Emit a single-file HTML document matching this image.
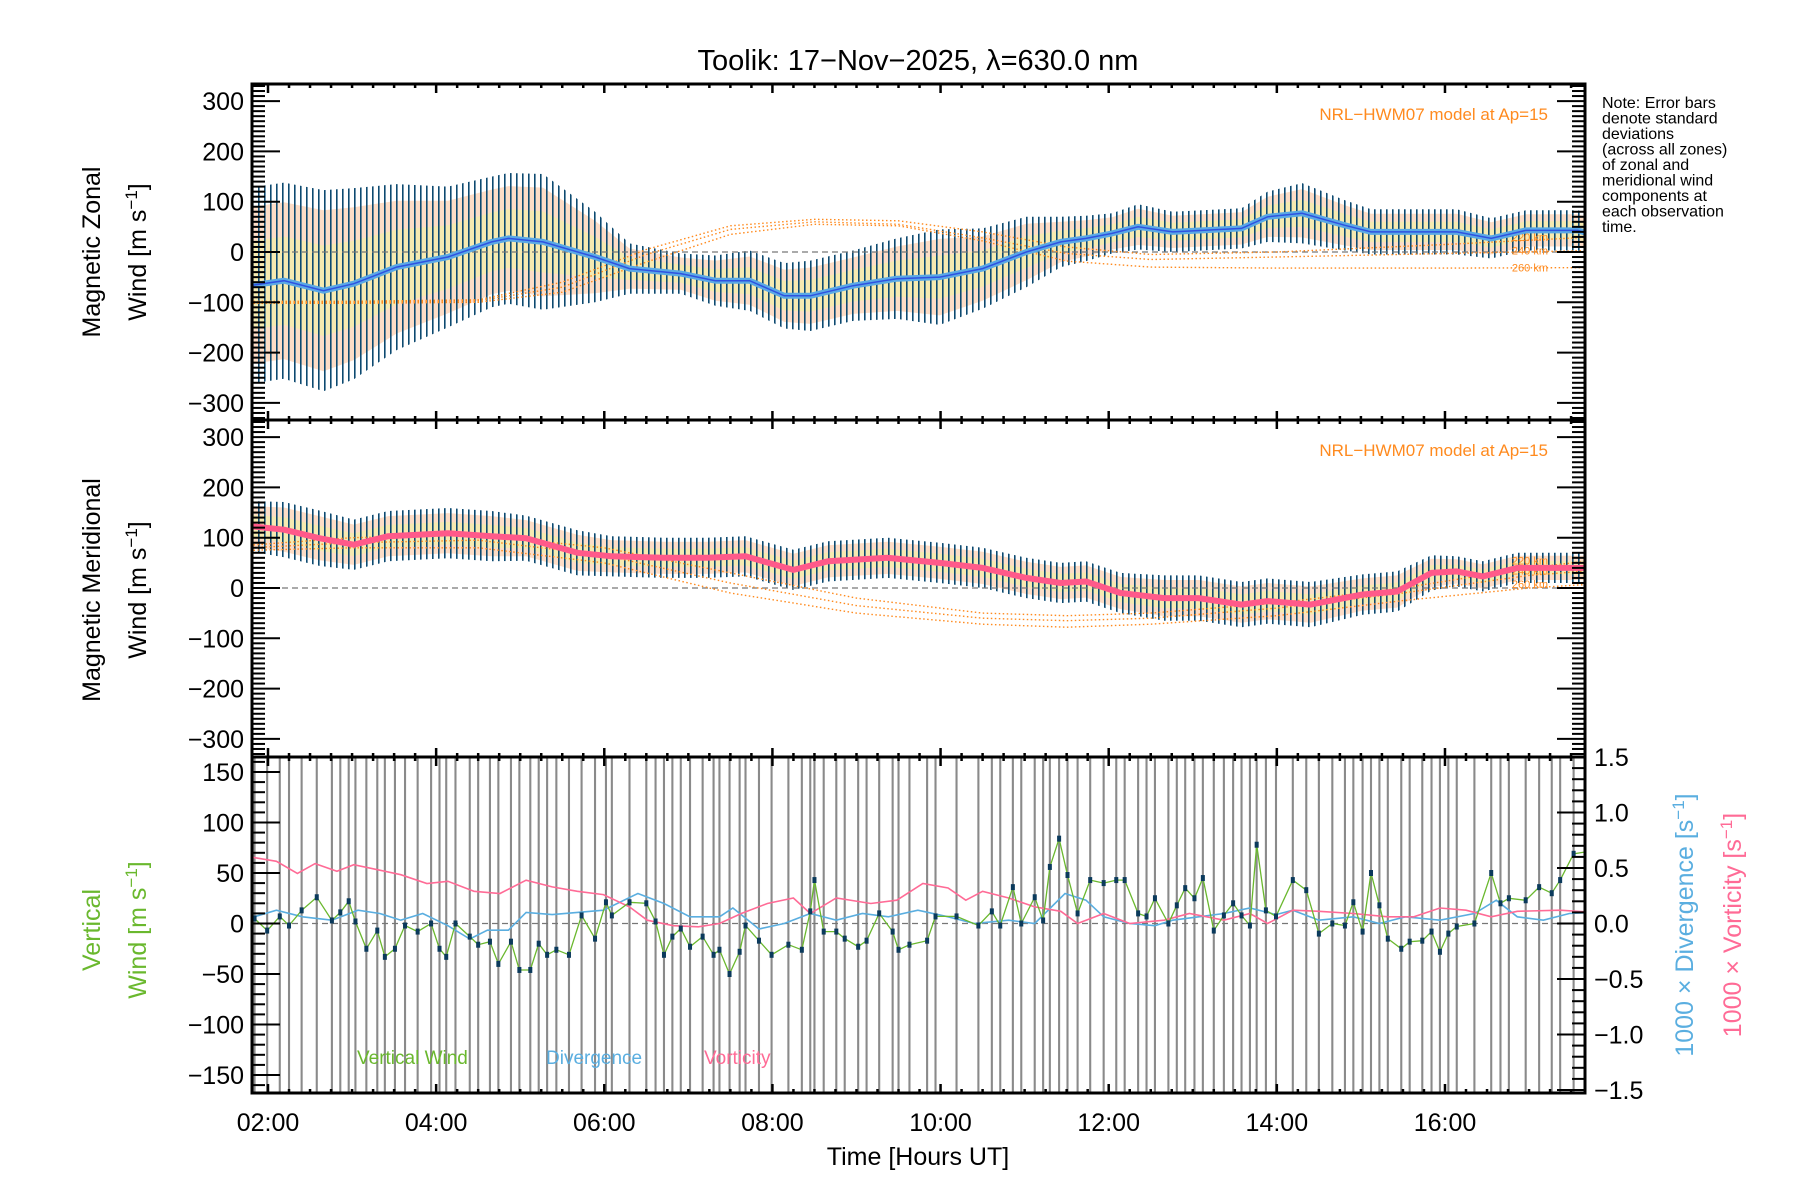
<!DOCTYPE html>
<html><head><meta charset="utf-8"><title>Toolik winds</title>
<style>
html,body{margin:0;padding:0;background:#fff;}
svg{display:block;font-family:"Liberation Sans",sans-serif;}
</style></head>
<body>
<svg id="chart" width="1800" height="1200" viewBox="0 0 1800 1200" xmlns="http://www.w3.org/2000/svg">
<defs>
<clipPath id="c1"><rect x="252" y="84" width="1333" height="336"/></clipPath>
<clipPath id="c2"><rect x="252" y="420" width="1333" height="337"/></clipPath>
<clipPath id="c3"><rect x="252" y="757" width="1333" height="336"/></clipPath>
<pattern id="bars" patternUnits="userSpaceOnUse" width="6" height="10"><rect x="0" y="0" width="1.6" height="10" fill="#0d4a70"/></pattern>
</defs>
<text x="918" y="70" font-size="29" text-anchor="middle">Toolik: 17−Nov−2025, λ=630.0 nm</text>
<g id="g1" clip-path="url(#c1)"></g>
<g id="g2" clip-path="url(#c2)"></g>
<g id="g3" clip-path="url(#c3)"></g>
<g id="axes"></g>
<g font-size="16">
<text x="1602" y="108">Note: Error bars</text>
<text x="1602" y="123.5">denote standard</text>
<text x="1602" y="139">deviations</text>
<text x="1602" y="154.5">(across all zones)</text>
<text x="1602" y="170">of zonal and</text>
<text x="1602" y="185.5">meridional wind</text>
<text x="1602" y="201">components at</text>
<text x="1602" y="216.5">each observation</text>
<text x="1602" y="232">time.</text>
</g>
<text x="1548" y="120" font-size="17" fill="#ff8a1e" text-anchor="end">NRL−HWM07 model at Ap=15</text>
<text x="1548" y="456" font-size="17" fill="#ff8a1e" text-anchor="end">NRL−HWM07 model at Ap=15</text>
<g font-size="19">
<text x="357" y="1064" fill="#6ab82e">Vertical Wind</text>
<text x="546" y="1064" fill="#5aaee0">Divergence</text>
<text x="704" y="1064" fill="#ff6b96">Vorticity</text>
</g>
<g font-size="25" text-anchor="middle">
<text transform="translate(100,252) rotate(-90)">Magnetic Zonal</text>
<text transform="translate(146,252) rotate(-90)">Wind [m s<tspan dy="-9" font-size="17">−1</tspan><tspan dy="9">]</tspan></text>
<text transform="translate(100,590) rotate(-90)">Magnetic Meridional</text>
<text transform="translate(146,590) rotate(-90)">Wind [m s<tspan dy="-9" font-size="17">−1</tspan><tspan dy="9">]</tspan></text>
<text transform="translate(100,930) rotate(-90)" fill="#6ab82e">Vertical</text>
<text transform="translate(146,930) rotate(-90)" fill="#6ab82e">Wind [m s<tspan dy="-9" font-size="17">−1</tspan><tspan dy="9">]</tspan></text>
<text transform="translate(1693,925) rotate(-90)" fill="#5aaee0">1000 × Divergence [s<tspan dy="-9" font-size="17">−1</tspan><tspan dy="9">]</tspan></text>
<text transform="translate(1741,925) rotate(-90)" fill="#ff6b96">1000 × Vorticity [s<tspan dy="-9" font-size="17">−1</tspan><tspan dy="9">]</tspan></text>
</g>
<text x="918" y="1165" font-size="25" text-anchor="middle">Time [Hours UT]</text>
</svg>
<script>
// ---- data ----
const zonalT = [1.78,2.19,2.66,3.02,3.53,4.14,4.66,4.86,5.27,5.89,6.30,6.91,7.32,7.73,8.14,8.45,8.96,9.48,9.99,10.50,11.02,11.43,11.73,12.04,12.35,12.76,13.58,13.89,14.30,14.81,15.12,16.14,16.55,16.96,17.58,17.78];
const zonalV = [-67,-57,-77,-63,-30,-10,20,27,20,-10,-33,-43,-57,-57,-87,-87,-67,-53,-50,-33,0,20,27,37,50,40,47,70,77,53,40,40,27,43,43,33];
const zonalSd = [195,195,200,190,165,140,130,130,135,90,50,40,50,60,65,70,70,80,95,80,70,50,45,40,45,40,40,50,60,50,45,45,40,40,40,40];
const modelT1 = [1.78,3.0,4.5,5.5,6.5,7.5,8.5,9.5,10.5,11.5,12.5,14,16,17.78];
const zonal220 = [-98,-98,-95,-60,5,52,65,62,40,10,-5,0,15,30];
const zonal240 = [-100,-100,-97,-70,-5,45,60,55,28,-3,-15,-10,-3,3];
const zonal260 = [-102,-102,-100,-80,-20,35,55,52,22,-18,-30,-32,-32,-31];

const merT = [1.78,2.19,2.61,3.02,3.43,4.14,4.66,5.07,5.68,6.09,6.71,7.22,7.68,8.25,8.66,9.37,9.99,10.50,11.02,11.43,11.73,12.14,12.66,13.07,13.58,13.89,14.40,15.02,15.43,15.84,16.14,16.45,16.86,17.37,17.78];
const merV = [123,116,99,86,103,109,103,99,70,63,60,60,63,36,53,60,50,40,20,10,13,-10,-20,-20,-33,-26,-33,-13,-7,30,33,23,40,40,40];
const merSd = [50,55,55,50,50,50,50,45,45,40,40,40,40,40,40,40,40,40,40,40,40,40,45,45,45,45,45,40,40,35,30,30,30,30,30];
const modelT2 = [1.78,3,4.5,6,7.5,9,10.5,11.5,12.5,14,15.5,17,17.78];
const mer220 = [85,100,105,80,30,-20,-50,-55,-50,-30,0,40,55];
const mer240 = [80,90,95,65,10,-35,-60,-65,-60,-40,-10,25,35];
const mer260 = [75,80,80,50,-10,-50,-72,-78,-72,-55,-25,0,8];

const vertT = [1.84,1.99,2.14,2.25,2.40,2.58,2.76,2.86,2.96,3.04,3.17,3.30,3.39,3.51,3.63,3.78,3.94,4.04,4.12,4.23,4.40,4.50,4.64,4.74,4.89,4.99,5.12,5.22,5.32,5.43,5.58,5.73,5.89,6.02,6.09,6.30,6.50,6.61,6.71,6.81,6.91,7.02,7.17,7.30,7.37,7.49,7.61,7.68,7.84,7.99,8.19,8.35,8.45,8.50,8.61,8.76,8.86,9.02,9.12,9.27,9.43,9.50,9.63,9.84,9.94,10.19,10.45,10.61,10.71,10.86,10.96,11.12,11.22,11.30,11.41,11.51,11.63,11.78,11.94,12.09,12.19,12.35,12.45,12.55,12.71,12.81,12.91,13.02,13.12,13.25,13.37,13.48,13.58,13.68,13.76,13.87,13.99,14.19,14.35,14.50,14.66,14.81,14.91,15.02,15.12,15.22,15.32,15.48,15.58,15.73,15.84,15.94,16.04,16.14,16.35,16.55,16.66,16.76,16.96,17.12,17.27,17.37,17.53,17.68,17.78];
const vertV = [5,-7,7,-2,13,26,3,11,22,2,-25,-7,-33,-25,-2,-8,0,-25,-33,0,-13,-21,-18,-40,-18,-46,-46,-20,-31,-26,-31,8,-15,21,8,21,20,2,-31,-13,-5,-23,-13,-31,-26,-50,-28,-2,-17,-31,-21,-26,12,43,-8,-8,-15,-23,-17,10,-8,-26,-21,-17,7,7,-2,12,-2,36,0,26,3,56,84,48,10,43,40,43,43,10,7,25,0,18,35,25,45,-7,8,20,8,-2,78,13,7,43,33,-10,0,-2,21,-8,50,18,-15,-25,-18,-17,-8,-28,-10,-3,0,50,20,25,23,36,30,43,69,71,109];
const vertErr = 260;

const divT = [1.79,2.10,2.41,2.76,3.07,3.33,3.58,3.84,4.14,4.40,4.61,4.86,5.07,5.38,5.68,5.99,6.40,6.71,7.02,7.37,7.53,7.84,8.14,8.45,8.76,9.07,9.38,9.73,10.09,10.40,10.81,11.12,11.48,11.73,11.94,12.25,12.55,12.76,13.07,13.37,13.68,13.99,14.19,14.50,14.91,15.22,15.53,15.94,16.35,16.61,16.86,17.17,17.48,17.78];
const divV = [0.05,0.12,0.06,0.03,0.12,0.09,0.03,0.09,-0.02,-0.14,-0.06,-0.06,0.10,0.08,0.10,0.12,0.27,0.18,0.06,0.06,0.14,-0.05,0,0.09,0.03,0.09,0.06,0.12,0.06,0,0.03,0,0.27,0.21,0.06,0,-0.02,0.03,0.06,0.09,0.14,0.08,0.12,0.03,0.06,0,0.06,0.03,0.09,0.21,0.06,0.03,0.09,0.10];
const vorT = [1.79,2.10,2.35,2.56,2.82,3.02,3.33,3.58,3.89,4.14,4.45,4.76,5.07,5.38,5.68,5.99,6.30,6.51,6.82,7.12,7.37,7.63,7.94,8.25,8.45,8.76,9.17,9.48,9.79,10.09,10.30,10.50,10.81,11.12,11.43,11.63,11.94,12.25,12.66,12.96,13.37,13.68,13.89,14.19,14.50,14.91,15.32,15.63,15.94,16.25,16.55,16.86,17.37,17.78];
const vorV = [0.60,0.56,0.45,0.54,0.47,0.53,0.48,0.44,0.36,0.38,0.29,0.27,0.39,0.33,0.29,0.26,0.15,0.03,-0.02,-0.03,0,0.09,0.18,0.23,0.09,0.23,0.18,0.21,0.36,0.32,0.21,0.29,0.23,0.15,0.11,0,0.09,0,0.03,0.09,0.03,0.09,0,0.12,0.11,0.09,0.06,0.06,0.14,0.12,0.06,0.11,0.12,0.10];

const xLabels = ["02:00","04:00","06:00","08:00","10:00","12:00","14:00","16:00"];
const xMajor = [2,4,6,8,10,12,14,16];
const leftTicks12 = [300,200,100,0,-100,-200,-300];
const leftTicks3 = [150,100,50,0,-50,-100,-150];
const rightTicks3 = [1.5,1.0,0.5,0.0,-0.5,-1.0,-1.5];

// ---- scales ----
const L=252,R=1585;
function xS(h){return 268+(h-2)*84.07;}
function y1(v){return 252-v*0.503;}
function y2(v){return 588-v*0.503;}
function y3(v){return 923.5-v*1.01;}
function y3r(v){return 923.5-v*111;}
const NS="http://www.w3.org/2000/svg";
function mk(tag,attrs,parent){const e=document.createElementNS(NS,tag);for(const k in attrs)e.setAttribute(k,attrs[k]);parent.appendChild(e);return e;}
function pathOf(T,V,ys){return T.map((t,i)=>(i?"L":"M")+xS(t).toFixed(1)+","+ys(V[i]).toFixed(1)).join("");}
function bandOf(T,V,S,ys,f){let a=T.map((t,i)=>xS(t).toFixed(1)+","+ys(V[i]+S[i]*f).toFixed(1));let b=T.map((t,i)=>xS(t).toFixed(1)+","+ys(V[i]-S[i]*f).toFixed(1)).reverse();return a.concat(b).join(" ");}

const g1=document.getElementById('g1'),g2=document.getElementById('g2'),g3=document.getElementById('g3'),ax=document.getElementById('axes');

function windPanel(g,T,V,S,ys,c220,c240,c260,mt,lineCol,nm){
  let e;
  e=mk('polygon',{points:bandOf(T,V,S,ys,0.8),fill:'#fcd2b4','fill-opacity':'0.75'},g);
  
  
  e=mk('polygon',{points:bandOf(T,V,S,ys,0.45),fill:'#f2f0a8','fill-opacity':'0.7'},g);
  
  
  e=mk('polygon',{points:bandOf(T,V,S,ys,1),fill:'url(#bars)'},g);
  
  
  e=mk('line',{x1:L,x2:R,y1:ys(0),y2:ys(0),stroke:'#777','stroke-width':1.3,'stroke-dasharray':'6,4'},g);
  
  
  [[c220,'220'],[c240,'240'],[c260,'260']].forEach(([c,k])=>{
    const p=mk('path',{d:pathOf(mt,c,ys),fill:'none',stroke:'#ff8a1e','stroke-width':1.4,'stroke-dasharray':'1.5,2.5'},g);
    
    
    const t=mk('text',{x:1548,y:ys(c[c.length-1])+4,'font-size':11,fill:'#ff8a1e','text-anchor':'end'},g);
    t.textContent=k+' km';
    
    
  });
  e=mk('path',{d:pathOf(T,V,ys),fill:'none',stroke:lineCol,'stroke-width':6,'stroke-linejoin':'round'},g);
  
  
}
windPanel(g1,zonalT,zonalV,zonalSd,y1,zonal220,zonal240,zonal260,modelT1,'#5aa9e6','zonal');
windPanel(g2,merT,merV,merSd,y2,mer220,mer240,mer260,modelT2,'#ff5a8a','meridional');
let thin=mk('path',{d:pathOf(zonalT,zonalV,y1),fill:'none',stroke:'#2f52e0','stroke-width':1.5},g1);



// panel 3
vertT.forEach((t,i)=>{
  const l=mk('line',{x1:xS(t),x2:xS(t),y1:y3(vertV[i]+vertErr),y2:y3(vertV[i]-vertErr),stroke:'#8a8a8a','stroke-width':2.1},g3);
  
  
});
let z3=mk('line',{x1:L,x2:R,y1:y3(0),y2:y3(0),stroke:'#777','stroke-width':1.3,'stroke-dasharray':'6,4'},g3);


let dv=mk('path',{d:pathOf(divT,divV,y3r),fill:'none',stroke:'#5aaee0','stroke-width':1.6},g3);


let vo=mk('path',{d:pathOf(vorT,vorV,y3r),fill:'none',stroke:'#ff6b96','stroke-width':1.6},g3);


let vw=mk('path',{d:pathOf(vertT,vertV,y3),fill:'none',stroke:'#6ab82e','stroke-width':1.3},g3);


vertT.forEach((t,i)=>{
  const r=mk('rect',{x:xS(t)-2,y:y3(vertV[i])-3,width:4,height:6,fill:'#0b3a5c'},g3);
  
  
});

// axes
function frame(top,bot){
  const f=mk('rect',{x:L,y:top,width:R-L,height:bot-top,fill:'none',stroke:'#000','stroke-width':3},ax);
  
  
  for(let q=1.75;q<=17.7;q+=0.25){
    const x=xS(q); if(x<L||x>R)continue;
    const major=Math.abs(q-Math.round(q/2)*2)<1e-6;
    const len=major?9:4;
    mk('line',{x1:x,x2:x,y1:top,y2:top+len,stroke:'#000','stroke-width':2.5},ax);
    mk('line',{x1:x,x2:x,y1:bot,y2:bot-len,stroke:'#000','stroke-width':2.5},ax);
  }
}
function yAxis(ys,lo,hi,minor,major,labels,side,fmt,top,bot){
  for(let v=lo;v<=hi+1e-9;v+=minor){
    const y=ys(v); if(y<top-0.5||y>bot+0.5)continue;
    const isMaj=Math.abs(v/major-Math.round(v/major))<1e-6;
    const len=isMaj?28:13;
    if(side!=='right')mk('line',{x1:L,x2:L+len,y1:y,y2:y,stroke:'#000','stroke-width':2},ax);
    if(side!=='left')mk('line',{x1:R,x2:R-len,y1:y,y2:y,stroke:'#000','stroke-width':2},ax);
  }
  labels.forEach(v=>{
    const t=mk('text',{x:side==='right'?R+9:L-8,y:ys(v)+9,'font-size':25,'text-anchor':side==='right'?'start':'end'},ax);
    t.textContent=fmt(v);
    
    
  });
}
const fInt=v=>(v<0?"−":"")+Math.abs(v);
const fDec=v=>(v<0?"−":"")+Math.abs(v).toFixed(1);
frame(84,420);frame(420,757);frame(757,1093);
yAxis(y1,-330,330,10,100,leftTicks12,'both',fInt,84,420);
yAxis(y2,-330,330,10,100,leftTicks12,'both',fInt,420,757);
yAxis(y3,-160,160,10,50,leftTicks3,'left',fInt,757,1093);
yAxis(y3r,-1.5,1.5,0.1,0.5,rightTicks3,'right',fDec,757,1093);
xMajor.forEach((h,i)=>{
  const t=mk('text',{x:xS(h),y:1131,'font-size':25,'text-anchor':'middle'},ax);
  t.textContent=xLabels[i];
  
  
});
</script>
</body></html>
